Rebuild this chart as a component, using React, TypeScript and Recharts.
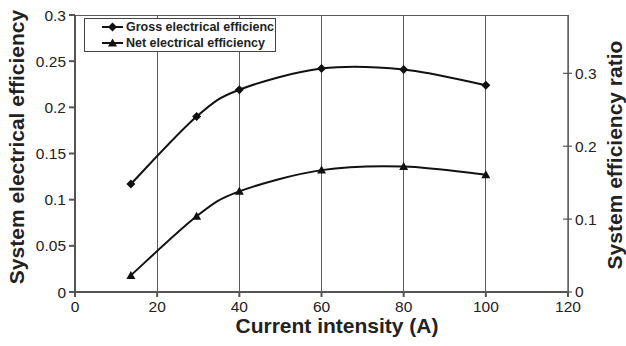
import React from 'react';
import { LineChart, Line, XAxis, YAxis, CartesianGrid, Legend } from 'recharts';

const currents = [13.6, 29.6, 40, 60, 80, 100];
const grossEfficiency = [0.117, 0.19, 0.219, 0.242, 0.241, 0.224];
const netEfficiency = [0.018, 0.082, 0.109, 0.132, 0.136, 0.127];

const xTicks = [0, 20, 40, 60, 80, 100, 120];
const leftTicks = [0, 0.05, 0.1, 0.15, 0.2, 0.25, 0.3];
const rightTicks = [0, 0.1, 0.2, 0.3];

const data = currents.map((current, i) => ({
    current,
    gross: grossEfficiency[i],
    net: netEfficiency[i],
}));

const FONT = '"Liberation Sans", Arial, Helvetica, sans-serif';
const TEXT = '#222';

// Excel-style smoothed line (Catmull-Rom through the points)
const smoothCurve = (context: any) => {
    let pts: number[][] = [];
    return {
        areaStart() {},
        areaEnd() {},
        lineStart() {
            pts = [];
        },
        point(x: number, y: number) {
            pts.push([+x, +y]);
        },
        lineEnd() {
            const n = pts.length;
            if (!n) return;
            context.moveTo(pts[0][0], pts[0][1]);
            const k = 1 / 6;
            for (let i = 0; i < n - 1; i++) {
                const p0 = pts[Math.max(i - 1, 0)];
                const p1 = pts[i];
                const p2 = pts[i + 1];
                const p3 = pts[Math.min(i + 2, n - 1)];
                context.bezierCurveTo(
                    p1[0] + (p2[0] - p0[0]) * k,
                    p1[1] + (p2[1] - p0[1]) * k,
                    p2[0] - (p3[0] - p1[0]) * k,
                    p2[1] - (p3[1] - p1[1]) * k,
                    p2[0],
                    p2[1]
                );
            }
        },
    };
};

const Diamond = (props: any) => {
    const { cx, cy } = props;
    if (cx == null || cy == null) return null;
    const s = 4.5;
    return <polygon points={`${cx},${cy - s} ${cx + s},${cy} ${cx},${cy + s} ${cx - s},${cy}`} fill="#111" />;
};

const Triangle = (props: any) => {
    const { cx, cy } = props;
    if (cx == null || cy == null) return null;
    return <polygon points={`${cx},${cy - 4.5} ${cx + 4.5},${cy + 3.5} ${cx - 4.5},${cy + 3.5}`} fill="#111" />;
};

const RightTick = (props: any) => {
    const { x, y, payload } = props;
    return (
        <g>
            <line x1={x - 5} x2={x + 4} y1={y} y2={y} stroke="#555" strokeWidth={1.2} />
            <text x={x + 7} y={y} dy="0.35em" textAnchor="start" fontSize={15.5} fill={TEXT} fontFamily={FONT}>
                {payload.value}
            </text>
        </g>
    );
};

const legendItems = [
    { label: 'Gross electrical efficienc', Marker: Diamond },
    { label: 'Net electrical efficiency', Marker: Triangle },
];

const renderLegend = () => (
    <div
        style={{
            width: 192,
            height: 34,
            boxSizing: 'border-box',
            border: '1px solid #444',
            background: '#fff',
            fontFamily: FONT,
            fontWeight: 'bold',
            fontSize: 12.5,
            color: TEXT,
            paddingLeft: 17,
        }}
    >
        {legendItems.map(({ label, Marker }) => (
            <div key={label} style={{ display: 'flex', alignItems: 'center', height: 16 }}>
                <svg width={22} height={12} style={{ flex: 'none' }}>
                    <line x1={0} x2={21} y1={6} y2={6} stroke="#111" strokeWidth={2} />
                    <Marker cx={10.5} cy={6} />
                </svg>
                <span style={{ marginLeft: 2, whiteSpace: 'nowrap' }}>{label}</span>
            </div>
        ))}
    </div>
);

const App: React.FC = () => {
    return (
        <div style={{ position: 'absolute', left: 0, top: 0, width: 626, height: 346, background: '#fff' }}>
            <LineChart width={626} height={346} data={data} margin={{ top: 15, right: 0, left: 0, bottom: 0 }}>
                <CartesianGrid stroke="#5a5a5a" strokeWidth={1} shapeRendering="crispEdges" />
                <XAxis
                    dataKey="current"
                    type="number"
                    domain={[0, 120]}
                    ticks={xTicks}
                    height={54}
                    stroke="#555"
                    strokeWidth={2}
                    tickSize={5}
                    tickMargin={4}
                    tick={{ fontSize: 15.5, fill: TEXT, fontFamily: FONT }}
                    label={{
                        content: () => (
                            <text x={337} y={333} textAnchor="middle" fontSize={21} fontWeight="bold" fill={TEXT} fontFamily={FONT}>
                                Current intensity (A)
                            </text>
                        ),
                    }}
                />
                <YAxis
                    yAxisId="left"
                    domain={[0, 0.3]}
                    ticks={leftTicks}
                    width={75}
                    stroke="#555"
                    strokeWidth={2}
                    tickSize={6}
                    tickMargin={3}
                    tick={{ fontSize: 15.5, fill: TEXT, fontFamily: FONT }}
                    label={{
                        content: () => (
                            <text
                                x={24}
                                y={147}
                                transform="rotate(-90 24 147)"
                                textAnchor="middle"
                                fontSize={21}
                                fontWeight="bold"
                                fill={TEXT}
                                fontFamily={FONT}
                            >
                                System electrical efficiency
                            </text>
                        ),
                    }}
                />
                <YAxis
                    yAxisId="right"
                    orientation="right"
                    domain={[0, 0.38]}
                    allowDataOverflow
                    includeHidden
                    ticks={rightTicks}
                    width={58}
                    stroke="#666"
                    strokeWidth={1.5}
                    tickLine={false}
                    tickSize={0}
                    tickMargin={0}
                    tick={<RightTick />}
                    label={{
                        content: () => (
                            <text
                                x={622}
                                y={155}
                                transform="rotate(-90 622 155)"
                                textAnchor="middle"
                                fontSize={21}
                                fontWeight="bold"
                                fill={TEXT}
                                fontFamily={FONT}
                            >
                                System efficiency ratio
                            </text>
                        ),
                    }}
                />
                <Legend
                    layout="vertical"
                    align="center"
                    verticalAlign="middle"
                    content={renderLegend}
                    wrapperStyle={{ left: 84, top: 18, width: 192, height: 34 }}
                />
                <Line
                    yAxisId="left"
                    type={smoothCurve as any}
                    dataKey="gross"
                    name="Gross electrical efficienc"
                    stroke="#111"
                    strokeWidth={2}
                    dot={<Diamond />}
                    activeDot={false}
                    isAnimationActive={false}
                />
                <Line
                    yAxisId="left"
                    type={smoothCurve as any}
                    dataKey="net"
                    name="Net electrical efficiency"
                    stroke="#111"
                    strokeWidth={2}
                    dot={<Triangle />}
                    activeDot={false}
                    isAnimationActive={false}
                />
                {/* carrier for the secondary (ratio) axis, not drawn */}
                <Line yAxisId="right" dataKey="gross" hide legendType="none" isAnimationActive={false} />
            </LineChart>
        </div>
    );
};

export default App;
